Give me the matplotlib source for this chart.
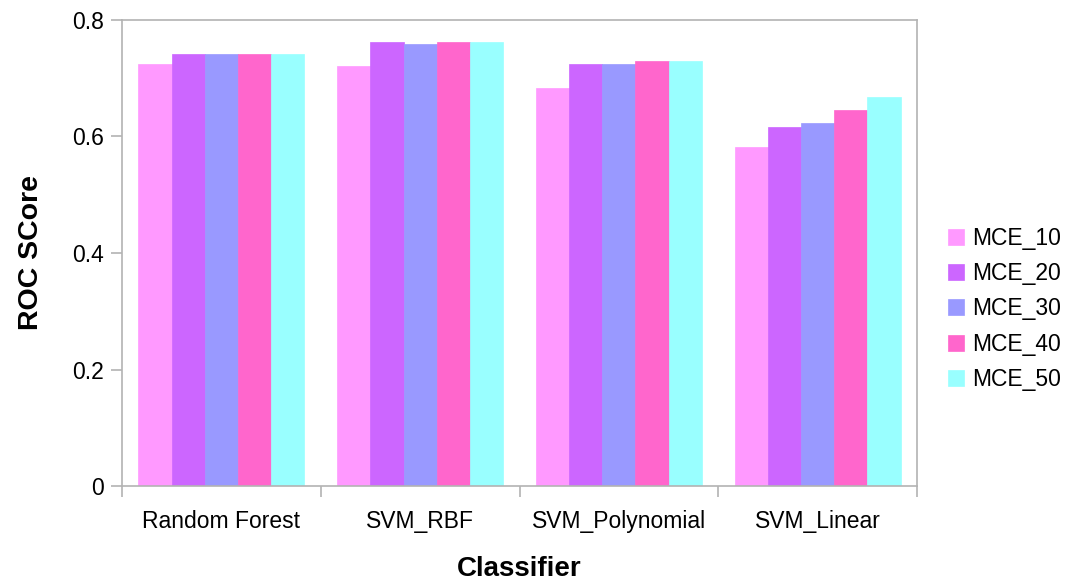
import numpy as np
import matplotlib.pyplot as plt

plt.rcParams['font.family'] = ['Liberation Sans', 'DejaVu Sans']

classifiers = ["Random Forest", "SVM_RBF", "SVM_Polynomial", "SVM_Linear"]
series = ["MCE_10", "MCE_20", "MCE_30", "MCE_40", "MCE_50"]
mce_10 = [0.724, 0.721, 0.683, 0.582]
mce_20 = [0.741, 0.762, 0.724, 0.617]
mce_30 = [0.741, 0.759, 0.724, 0.623]
mce_40 = [0.741, 0.762, 0.730, 0.645]
mce_50 = [0.741, 0.762, 0.730, 0.667]
colors = ["#ff99ff", "#cc66ff", "#9999ff", "#ff66cc", "#99ffff"]

values = [mce_10, mce_20, mce_30, mce_40, mce_50]

fig = plt.figure(figsize=(10.65, 5.81), dpi=100)
ax = fig.add_axes([0.1146, 0.1635, 0.7464, 0.8021])

x = np.arange(len(classifiers))
width = 0.167
for i, (name, vals) in enumerate(zip(series, values)):
    ax.bar(x + (i - 2) * width, vals, width, color=colors[i], label=name,
           edgecolor=colors[i], linewidth=0.5)

gray = "#b3b3b3"
ax.set_xlim(-0.5, len(classifiers) - 0.5)
ax.set_ylim(0, 0.8)
ax.set_yticks([0, 0.2, 0.4, 0.6, 0.8])
ax.set_yticklabels(["0", "0.2", "0.4", "0.6", "0.8"])
ax.set_xticks(x)
ax.set_xticklabels(classifiers)
ax.set_xticks(np.arange(len(classifiers) + 1) - 0.5, minor=True)
ax.tick_params(axis='x', which='major', length=0, labelsize=16.5, pad=17, colors='#000000')
ax.tick_params(axis='x', which='minor', length=8, color=gray, width=1.2)
ax.tick_params(axis='y', length=8, color=gray, width=1.2, labelsize=16.5, pad=5)
for s in ax.spines.values():
    s.set_color(gray)
    s.set_linewidth(1.2)

ax.set_ylabel("ROC SCore", fontsize=20.5, fontweight='bold', labelpad=20)
ax.set_xlabel("Classifier", fontsize=20, fontweight='bold', labelpad=17)

ax.legend(loc='center left', bbox_to_anchor=(1.013, 0.38), frameon=False,
          fontsize=16.5, handlelength=0.7, handleheight=0.7,
          handletextpad=0.35, labelspacing=0.53)

fig.savefig("out.png", dpi=100)
